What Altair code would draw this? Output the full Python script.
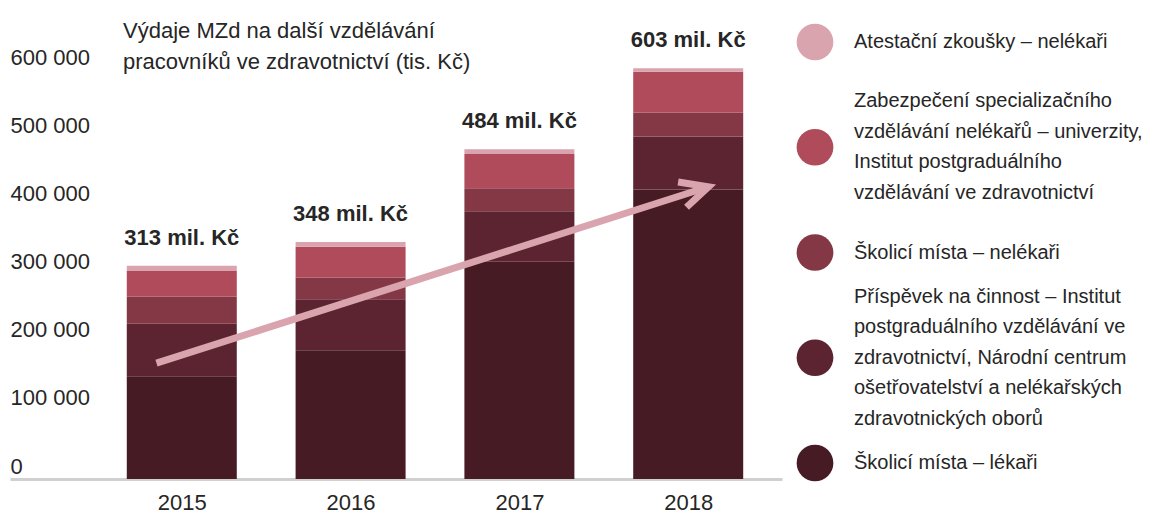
import altair as alt
import pandas as pd

# ---------------- data ----------------
years = [2015, 2016, 2017, 2018]

# stacked segments, bottom -> top (tis. Kč)
skolici_mista_lekari = [151000, 189000, 319000, 425000]
prispevek_na_cinnost = [77000, 75000, 74000, 78000]
skolici_mista_nelekari = [40000, 32000, 34000, 35000]
zabezpeceni_vzdelavani = [38000, 45000, 50000, 60000]
atestacni_zkousky = [7000, 7000, 7000, 5000]

# legend entries, top -> bottom (each entry split into its printed lines)
legend_lines = [
    ["Atestační zkoušky – nelékaři"],
    ["Zabezpečení specializačního", "vzdělávání nelékařů – univerzity,",
     "Institut postgraduálního", "vzdělávání ve zdravotnictví"],
    ["Školicí místa – nelékaři"],
    ["Příspěvek na činnost – Institut", "postgraduálního vzdělávání ve",
     "zdravotnictví, Národní centrum", "ošetřovatelství a nelékařských",
     "zdravotnických oborů"],
    ["Školicí místa – lékaři"],
]
legend_colors = ["#d9a4ae", "#b04b5c", "#843745", "#5b2430", "#461b23"]

title_lines = ["Výdaje MZd na další vzdělávání",
               "pracovníků ve zdravotnictví (tis. Kč)"]

y_ticks = [0, 100000, 200000, 300000, 400000, 500000, 600000]

# arrow annotation (in data units: year, tis. Kč)
arrow_x = [2014.85, 2018.12]
arrow_y = [170000, 429000]
head_x = [2017.94, 2018.12, 2017.99]
head_y = [436000, 429000, 399000]

# ---------------- tables ----------------
cats_top_down = [" ".join(l) for l in legend_lines]
cats_bottom_up = cats_top_down[::-1]
series_bottom_up = [skolici_mista_lekari, prispevek_na_cinnost,
                    skolici_mista_nelekari, zabezpeceni_vzdelavani,
                    atestacni_zkousky]

rows = []
for s_idx, (cat, vals) in enumerate(zip(cats_bottom_up, series_bottom_up)):
    for yr, v in zip(years, vals):
        rows.append({"year": yr, "value": v, "category": cat, "stack": s_idx})
df = pd.DataFrame(rows)

totals = [sum(s[i] for s in series_bottom_up) for i in range(len(years))]
df_tot = pd.DataFrame({
    "year": years,
    "value": totals,
    "label": [f"{round(t / 1000)} mil. Kč" for t in totals],
})

df_shaft = pd.DataFrame({"year": arrow_x, "value": arrow_y, "i": [0, 1]})
df_head = pd.DataFrame({"year": head_x, "value": head_y, "i": [0, 1, 2]})

# legend: one row per entry (symbol) and one row per printed line (text)
LEG_PAD = 0.3135            # outer padding of legend rows (in entry steps)
LINE_STEP = 30.5 / 105.25   # line height expressed in entry steps
df_leg_sym = pd.DataFrame({"category": cats_top_down,
                           "pos": list(range(len(cats_top_down)))})
leg_rows = []
for idx, lines in enumerate(legend_lines):
    n = len(lines)
    for j, line in enumerate(lines):
        leg_rows.append({"pos": idx + (j - (n - 1) / 2) * LINE_STEP,
                         "line": line})
df_leg_txt = pd.DataFrame(leg_rows)

# ---------------- styling ----------------
FONT = "Liberation Sans"
TXT = "#262626"
color_scale = alt.Scale(domain=cats_top_down, range=legend_colors)

x_scale = alt.Scale(domain=[2014.012, 2018.526], nice=False, zero=False)
y_scale = alt.Scale(domain=[0, 690000], nice=False)

x_axis = alt.Axis(values=years, format="d", title=None, grid=False,
                  ticks=False, tickSize=0, labelPadding=13, labelFontSize=22,
                  labelFlush=False, labelColor=TXT, domainColor="#d0d0d0",
                  domainWidth=3)
y_axis = alt.Axis(values=y_ticks,
                  labelExpr="replace(format(datum.value, ',d'), ',', ' ')",
                  title=None, grid=False, ticks=False, tickSize=0,
                  domain=False, labelAlign="left", labelBaseline="middle",
                  labelPadding=0, labelOffset=-13, labelFlush=False,
                  labelFontSize=22, labelColor=TXT)


def X():
    return alt.X("year:Q", scale=x_scale, axis=x_axis)


def Y(stack=None):
    if stack:
        return alt.Y("value:Q", scale=y_scale, axis=y_axis, stack=stack)
    return alt.Y("value:Q", scale=y_scale, axis=y_axis)


bars = alt.Chart(df).mark_bar(size=110, orient="vertical").encode(
    x=X(),
    y=Y("zero"),
    color=alt.Color("category:N", scale=color_scale, legend=None),
    order=alt.Order("stack:Q"),
)

shaft = alt.Chart(df_shaft).mark_line(
    color="#d9a4ae", strokeWidth=7, strokeCap="butt"
).encode(x=X(), y=Y(), order=alt.Order("i:Q"))

head = alt.Chart(df_head).mark_line(
    color="#d9a4ae", strokeWidth=7, strokeCap="butt", strokeJoin="miter"
).encode(x=X(), y=Y(), order=alt.Order("i:Q"))

labels = alt.Chart(df_tot).mark_text(
    dy=-28, fontSize=22, fontWeight="bold", color=TXT, baseline="middle"
).encode(x=X(), y=Y(), text="label:N")

main = alt.layer(bars, shaft, head, labels).properties(
    width=772, height=470,
    title=alt.TitleParams(text=title_lines, anchor="start", frame="group",
                          dx=113, offset=-65, baseline="top", fontSize=22,
                          fontWeight="normal", lineHeight=31, color=TXT,
                          font=FONT),
)

leg_y_scale = alt.Scale(domain=[-LEG_PAD, len(cats_top_down) - 1 + LEG_PAD],
                        reverse=True, nice=False, zero=False)

leg_circles = alt.Chart(df_leg_sym).mark_circle(size=1350, opacity=1).encode(
    x=alt.value(18),
    y=alt.Y("pos:Q", scale=leg_y_scale, axis=None),
    color=alt.Color("category:N", scale=color_scale, legend=None),
)
leg_text = alt.Chart(df_leg_txt).mark_text(
    align="left", baseline="middle", fontSize=20, color=TXT
).encode(
    x=alt.value(57),
    y=alt.Y("pos:Q", scale=leg_y_scale, axis=None),
    text="line:N",
)

legend_chart = alt.layer(leg_circles, leg_text).properties(width=340, height=487)

chart = alt.hconcat(main, legend_chart, spacing=14).properties(
    padding={"left": 2, "top": 1, "right": 0, "bottom": 0}
).configure(font=FONT).configure_view(stroke=None)

chart.save("out.html", embed_options={"renderer": "svg", "actions": False})
